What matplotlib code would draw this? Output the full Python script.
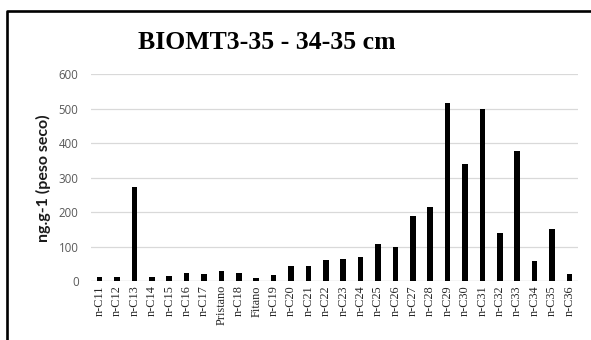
import matplotlib
matplotlib.use("Agg")
import matplotlib.pyplot as plt
from matplotlib.lines import Line2D

# compound labels and concentrations (ng/g dry weight)
compounds = ["n-C11", "n-C12", "n-C13", "n-C14", "n-C15", "n-C16", "n-C17",
             "Pristano", "n-C18", "Fitano", "n-C19", "n-C20", "n-C21", "n-C22",
             "n-C23", "n-C24", "n-C25", "n-C26", "n-C27", "n-C28", "n-C29",
             "n-C30", "n-C31", "n-C32", "n-C33", "n-C34", "n-C35", "n-C36"]
values = [11, 11, 272, 11, 15, 23, 21, 28, 23, 9, 17, 45, 45, 60,
          64, 71, 107, 99, 190, 215, 516, 339, 498, 139, 378, 58, 152, 19]
yticks = [0, 100, 200, 300, 400, 500, 600]

fig = plt.figure(figsize=(5.91, 3.40), dpi=100)
ax = fig.add_axes([0.154, 0.1735, 0.824, 0.608])

x = range(len(compounds))
ax.bar(x, values, width=0.32, color="black", zorder=3)

ax.set_xlim(-0.5, len(compounds) - 0.5)
ax.set_ylim(0, 600)
ax.set_yticks(yticks)
ax.yaxis.grid(True, color="#d9d9d9", linewidth=0.9, zorder=0)
ax.set_axisbelow(True)
for s in ax.spines.values():
    s.set_visible(False)
ax.axhline(0, color="#d9d9d9", linewidth=0.9, zorder=1)

ax.set_xticks(list(x))
ax.set_xticklabels(compounds, rotation=90, family="Liberation Serif",
                   fontsize=8.8, color="#262626")
ax.tick_params(axis="both", length=0)
ax.tick_params(axis="x", pad=3)
ax.tick_params(axis="y", pad=9)
for lab in ax.get_yticklabels():
    lab.set_family("Open Sans")
    lab.set_fontsize(8.3)
    lab.set_color("#595959")

# y axis title
fig.text(43 / 591, 1 - 178 / 340, "ng.g-1 (peso seco)", rotation=90,
         ha="center", va="center", family="Lato", fontsize=11.5,
         fontweight="bold", color="#1a1a1a")

fig.text(0.452, 0.876, "BIOMT3-35 - 34-35 cm", ha="center", va="center",
         family="Liberation Serif", fontweight="bold", fontsize=18.5)

# outer frame (left and top edges visible)
fig.add_artist(Line2D([7.3 / 591, 7.3 / 591, 1.0], [0.0, 1 - 10.7 / 340, 1 - 10.7 / 340],
                      transform=fig.transFigure, color="black", linewidth=1.9))

fig.savefig("out.png", dpi=100)
